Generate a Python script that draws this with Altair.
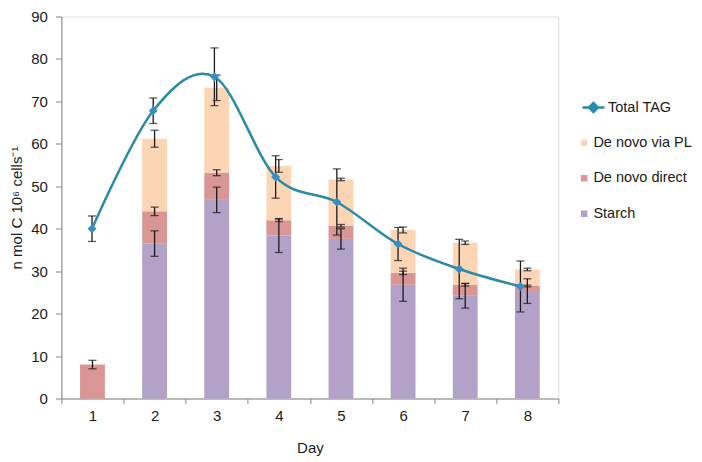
import altair as alt
import pandas as pd

# ---- data ----
days = [1, 2, 3, 4, 5, 6, 7, 8]
starch = [0.0, 36.5, 46.8, 38.4, 37.6, 26.8, 24.2, 25.3]
direct = [8.0, 7.6, 6.4, 3.6, 3.1, 2.8, 2.6, 1.2]
via_pl = [0.0, 17.1, 20.0, 12.8, 10.9, 10.1, 9.9, 3.9]
starch_err = [0.0, 3.0, 3.0, 4.0, 2.4, 3.9, 2.9, 2.9]
direct_err = [1.0, 1.0, 0.7, 0.3, 0.3, 0.4, 0.3, 0.2]
pl_err = [0.0, 2.0, 3.0, 1.5, 0.3, 0.7, 0.4, 0.3]
tag = [40.0, 67.8, 75.8, 52.2, 46.3, 36.4, 30.5, 26.4]
tag_err = [3.0, 3.0, 6.8, 5.0, 7.8, 3.9, 7.0, 6.0]

components = ["De novo via PL", "De novo direct", "Starch"]
comp_colors = ["#FCD5B5", "#D99694", "#B3A2C7"]
line_color = "#2A8BA8"
marker_color = "#3A8CC4"
err_color = "#1a1a1a"
axis_gray = "#868686"
text_color = "#1a1a1a"
FONT = "Liberation Sans"

# ---- tables built from the arrays ----
bar_rows, err_rows, cap_rows = [], [], []
for i, d in enumerate(days):
    b1 = starch[i]
    b2 = b1 + direct[i]
    b3 = b2 + via_pl[i]
    for name, lo, hi, e in [("Starch", 0.0, b1, starch_err[i]),
                            ("De novo direct", b1, b2, direct_err[i]),
                            ("De novo via PL", b2, b3, pl_err[i])]:
        if hi > lo:
            bar_rows.append({"Day": d, "comp": name, "lo": lo, "hi": hi})
            if e > 0:
                err_rows.append({"Day": d, "lo": hi - e, "hi": hi + e})
                cap_rows.append({"Day": d, "v": hi - e})
                cap_rows.append({"Day": d, "v": hi + e})
bars_df = pd.DataFrame(bar_rows)
err_df = pd.DataFrame(err_rows)
cap_df = pd.DataFrame(cap_rows)

tag_df = pd.DataFrame({"Day": days, "tag": tag, "series": ["Total TAG"] * len(days)})
tag_err_df = pd.DataFrame({"Day": days,
                           "lo": [t - e for t, e in zip(tag, tag_err)],
                           "hi": [t + e for t, e in zip(tag, tag_err)]})
tag_cap_df = pd.DataFrame({"Day": days + days,
                           "v": [t - e for t, e in zip(tag, tag_err)] + [t + e for t, e in zip(tag, tag_err)]})

yscale = alt.Scale(domain=[0, 90], nice=False)
yaxis = alt.Axis(title="n mol C 10⁶ cells⁻¹", values=list(range(0, 91, 10)), grid=False,
                 domainColor=axis_gray, tickColor=axis_gray, tickSize=6, labelPadding=8,
                 labelFont=FONT, labelFontSize=15, labelColor=text_color,
                 titleFont=FONT, titleFontSize=15, titleFontWeight="normal", titleColor=text_color,
                 titlePadding=6.5)

xband = alt.X("Day:O", scale=alt.Scale(paddingInner=0, paddingOuter=0),
              axis=alt.Axis(title="Day", labelAngle=0, tickBand="extent", grid=False,
                            domainColor=axis_gray, tickColor=axis_gray, tickSize=5,
                            labelPadding=5, labelFont=FONT, labelFontSize=15, labelColor=text_color,
                            titleFont=FONT, titleFontSize=15, titleFontWeight="normal",
                            titleColor=text_color, titlePadding=17))

bars = alt.Chart(bars_df).mark_bar(width={"band": 0.4}).encode(
    x=xband,
    y=alt.Y("lo:Q", scale=yscale, axis=yaxis),
    y2="hi:Q",
    color=alt.Color("comp:N", scale=alt.Scale(domain=components, range=comp_colors),
                    legend=alt.Legend(title=None, orient="none", legendX=515.5, legendY=119,
                                      symbolType="square", symbolSize=42, symbolStrokeWidth=0,
                                      rowPadding=20.5, labelOffset=2, padding=0,
                                      labelFont=FONT, labelFontSize=14.5, labelColor=text_color)),
)
bar_err = alt.Chart(err_df).mark_rule(color=err_color, strokeWidth=1.3).encode(
    x=xband, y=alt.Y("lo:Q", scale=yscale, axis=yaxis), y2="hi:Q")
bar_caps = alt.Chart(cap_df).mark_tick(color=err_color, orient="horizontal", size=8, thickness=1.3).encode(
    x=xband, y=alt.Y("v:Q", scale=yscale, axis=yaxis))

xline = alt.X("Day:Q", scale=alt.Scale(domain=[0.5, 8.62], nice=False, zero=False), axis=None)

line = alt.Chart(tag_df).mark_line(interpolate="cardinal", tension=0, strokeWidth=2.5).encode(
    x=xline,
    y=alt.Y("tag:Q", scale=yscale, axis=yaxis),
    stroke=alt.Stroke("series:N", scale=alt.Scale(domain=["Total TAG"], range=[line_color]),
                      legend=alt.Legend(title=None, orient="none", legendX=519.6, legendY=78.5,
                                        symbolType="M-1,0L1,0M-0.4,0L0,-0.4L0.4,0L0,0.4Z",
                                        symbolSize=484, symbolStrokeWidth=2.5,
                                        symbolFillColor=marker_color, labelOffset=2, padding=0,
                                        labelFont=FONT, labelFontSize=14.5, labelColor=text_color)),
)
tag_err_rule = alt.Chart(tag_err_df).mark_rule(color=err_color, strokeWidth=1.3).encode(
    x=xline, y=alt.Y("lo:Q", scale=yscale, axis=yaxis), y2="hi:Q")
tag_caps = alt.Chart(tag_cap_df).mark_tick(color=err_color, orient="horizontal", size=8, thickness=1.3).encode(
    x=xline, y=alt.Y("v:Q", scale=yscale, axis=yaxis))
points = alt.Chart(tag_df).mark_point(shape="diamond", filled=True, size=80, opacity=1,
                                       color=marker_color).encode(
    x=xline, y=alt.Y("tag:Q", scale=yscale, axis=yaxis))

bar_group = alt.layer(bars, bar_err, bar_caps)
line_group = alt.layer(tag_err_rule, tag_caps, line, points)

chart = alt.layer(bar_group, line_group).resolve_scale(x="independent").properties(
    width=497, height=382,
    autosize=alt.AutoSizeParams(type="none"),
    padding={"left": 53.4, "top": 8.5, "right": 135.6, "bottom": 58},
).configure_view(stroke=None).configure(background="white")

chart.save("out.html", embed_options={"renderer": "svg", "actions": False})
